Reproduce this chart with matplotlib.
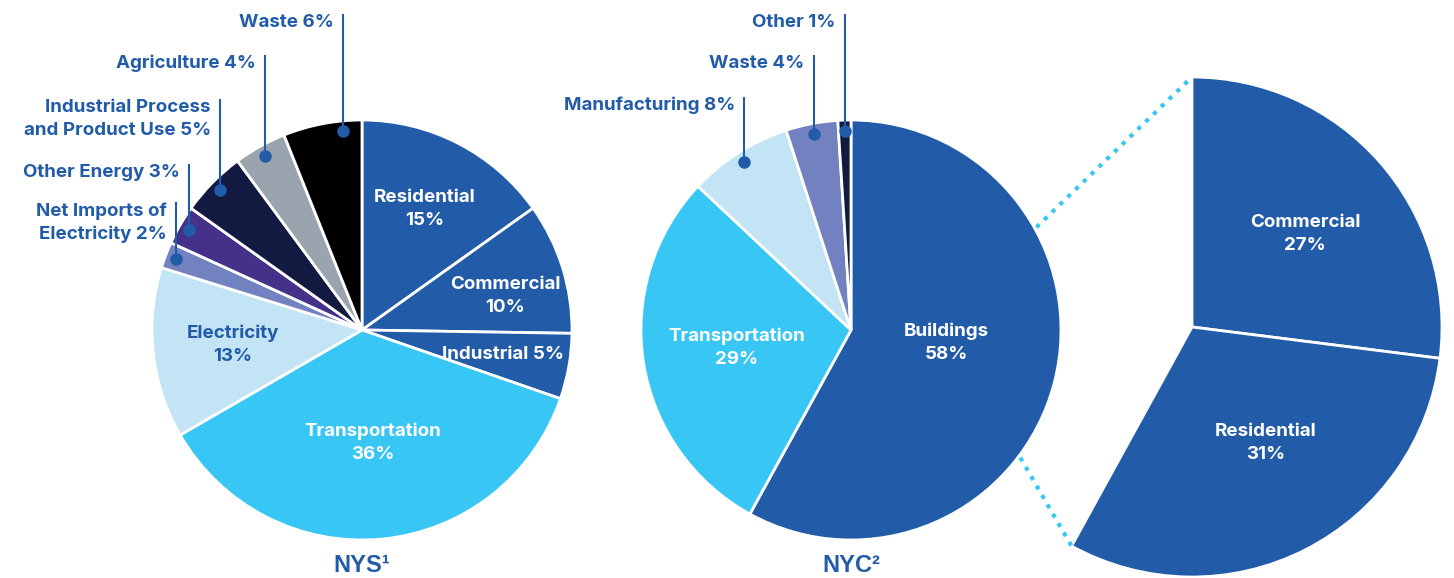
import numpy as np
import matplotlib.pyplot as plt

# greenhouse gas emissions by sector, New York State vs New York City
nys_names = ['Residential', 'Commercial', 'Industrial', 'Transportation', 'Electricity',
             'Net Imports of\nElectricity', 'Other Energy', 'Industrial Process\nand Product Use',
             'Agriculture', 'Waste']
nys_values = [15, 10, 5, 36, 13, 2, 3, 5, 4, 6]

nyc_names = ['Buildings', 'Transportation', 'Manufacturing', 'Waste', 'Other']
nyc_values = [58, 29, 8, 4, 1]

bld_names = ['Commercial', 'Residential']
bld_values = [27, 31]

BLUE = '#225ca8'
CYAN = '#38c6f4'
PALE = '#c2e4f5'
LILAC = '#7282c0'
PURPLE = '#44318a'
NAVY = '#131a42'
GREY = '#9aa4ae'

nys_colors = [BLUE, BLUE, BLUE, CYAN, PALE, LILAC, PURPLE, NAVY, GREY, 'black']
nyc_colors = [BLUE, CYAN, PALE, LILAC, NAVY]

# label placement: ('in', radius fraction, fraction across wedge, text colour)
#                  ('out', fraction across wedge, leader top y)
nys_place = [('in', 0.65, 0.5, 'white'), ('in', 0.70, 0.39, 'white'),
             ('in', 0.68, 0.5, 'white'), ('in', 0.54, 0.5, 'white'),
             ('in', 0.62, 0.5, BLUE),
             ('out', 0.5, 375), ('out', 0.5, 413), ('out', 0.5, 478), ('out', 0.5, 522),
             ('out', 0.25, 563)]
nyc_place = [('in', 0.46, 0.532, 'white'), ('in', 0.55, 0.5, 'white'),
             ('out', 0.5, 480), ('out', 0.5, 522), ('out', 0.5, 563)]
bld_place = [('in', 0.585, 0.48, 'white'), ('in', 0.55, 0.547, 'white')]

W, H = 1454, 578
FONT = ['Inter', 'Roboto', 'DejaVu Sans']
FS = 13.5

fig = plt.figure(figsize=(W / 100, H / 100), dpi=100)
ax = fig.add_axes([0, 0, 1, 1])


def pt(c, r, ang):
    a = np.deg2rad(ang)
    return c[0] + r * np.cos(a), c[1] + r * np.sin(a)


def draw_pie(values, colors, center, radius, normalize=True):
    wedges, _ = ax.pie(values, colors=colors, startangle=90, counterclock=False,
                       center=center, radius=radius, normalize=normalize,
                       wedgeprops=dict(edgecolor='white', linewidth=2))
    return wedges


def label_pie(wedges, names, values, place, center, radius):
    for w, name, v, p in zip(wedges, names, values, place):
        span = w.theta2 - w.theta1
        if p[0] == 'in':
            x, y = pt(center, radius * p[1], w.theta1 + span * p[2])
            txt = f'{name} {v}%' if name == 'Industrial' else f'{name}\n{v}%'
            ax.text(x, y, txt, ha='center', va='center', color=p[3], fontsize=FS,
                    fontweight='bold', family=FONT, linespacing=1.45)
        else:
            x, y = pt(center, radius * 0.95, w.theta1 + span * p[1])
            ax.plot([x, x], [y, p[2]], color=BLUE, lw=1.5)
            ax.plot(x, y, 'o', color=BLUE, ms=8)
            ax.text(x - 9, p[2] + 1, f'{name} {v}%', ha='right', va='top', color=BLUE,
                    fontsize=FS, fontweight='bold', family=FONT, linespacing=1.45,
                    multialignment='right')


nys_c, nyc_c, bld_c = (362, 248), (851, 248), (1192, 251)
R, RB = 210, 250

w1 = draw_pie(nys_values, nys_colors, nys_c, R)
label_pie(w1, nys_names, nys_values, nys_place, nys_c, R)

w2 = draw_pie(nyc_values, nyc_colors, nyc_c, R)
label_pie(w2, nyc_names, nyc_values, nyc_place, nyc_c, R)

# buildings broken out into commercial and residential
w3 = draw_pie([v / 100 for v in bld_values], [BLUE, BLUE], bld_c, RB, normalize=False)
label_pie(w3, bld_names, bld_values, bld_place, bld_c, RB)

# dotted connectors from the buildings slice to the breakout
for a_small, a_big in [(29, w3[0].theta2), (-37, w3[1].theta1)]:
    x0, y0 = pt(nyc_c, R + 2, a_small)
    x1, y1 = pt(bld_c, RB, a_big)
    ax.plot([x0, x1], [y0, y1], color=CYAN, lw=3, linestyle=(0, (1, 1.6)))

for c, title in [(nys_c, 'NYS\u00b9'), (nyc_c, 'NYC\u00b2')]:
    ax.text(c[0], 13, title, ha='center', va='center', color=BLUE, fontsize=17,
            fontweight='bold', family=['Liberation Sans', 'DejaVu Sans'])

ax.set_xlim(0, W)
ax.set_ylim(0, H)
ax.set_aspect('auto')
ax.axis('off')

fig.savefig('out.png', dpi=100)
